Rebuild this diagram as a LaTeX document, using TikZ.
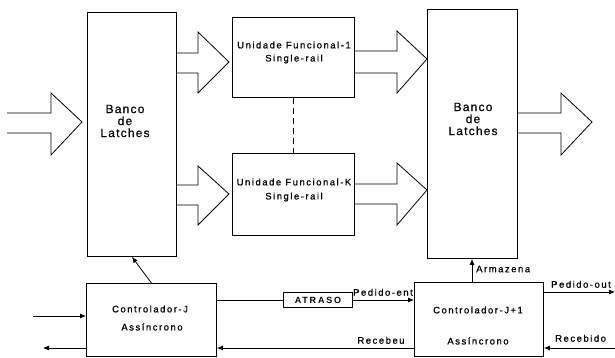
\documentclass[tikz,border=0pt]{standalone}
\usepackage{fontspec}
\setmainfont{Liberation Sans}
\usetikzlibrary{arrows.meta}
\begin{document}
\begin{tikzpicture}[x=1pt,y=-1pt,
  box/.style={draw,line width=0.9pt},
  lbl/.style={font=\fontsize{9.5}{11}\selectfont\addfontfeatures{LetterSpace=16,FakeBold=0.8}, inner sep=0pt},
  big/.style={font=\fontsize{12}{14}\selectfont\addfontfeatures{LetterSpace=10,FakeBold=0.6}, align=center, inner sep=0pt},
  fat/.style={draw,line width=0.8pt,line join=miter},
  sig/.style={line width=0.8pt,-{Latex[length=6pt,width=5pt]}}]
\useasboundingbox (0,0) rectangle (615,358);
% boxes
\node[box,minimum width=89,minimum height=244,anchor=north west] (L1) at (87,12) {};
\node[box,minimum width=90,minimum height=249,anchor=north west] (L2) at (427,9) {};
\node[box,minimum width=122,minimum height=80,anchor=north west] (F1) at (232,17) {};
\node[box,minimum width=122,minimum height=82,anchor=north west] (FK) at (232,153) {};
\node[box,minimum width=130,minimum height=73,anchor=north west] (C1) at (86,283) {};
\node[box,minimum width=129,minimum height=74,anchor=north west] (C2) at (414,282) {};
\node[box,minimum width=69,minimum height=15,anchor=north west,inner sep=0pt] (AT) at (283,292) {};
\node[lbl,font=\fontsize{9}{10}\selectfont\bfseries\addfontfeatures{LetterSpace=20}] (ATt) at (AT.center) {ATRASO};
% texts
\node[big] (B1) at (125,121) {Banco\\[-2pt]de\\[-2pt]Latches};
\node[big] (B2) at (473,119) {Banco\\[-2pt]de\\[-2pt]Latches};
\node[lbl,font=\fontsize{9.5}{10}\selectfont\addfontfeatures{LetterSpace=16,FakeBold=0.8}] (F1a) at (294,45) {Unidade Funcional-1};
\node[lbl] (F1b) at (294,59) {Single-rail};
\node[lbl,font=\fontsize{9.5}{10}\selectfont\addfontfeatures{LetterSpace=16,FakeBold=0.8}] (FKa) at (294,182) {Unidade Funcional-K};
\node[lbl] (FKb) at (294,197) {Single-rail};
\node[lbl] (C1a) at (150,309) {Controlador-J};
\node[lbl] (C1b) at (152,327) {Assíncrono};
\node[lbl] (C2a) at (478,310) {Controlador-J+1};
\node[lbl] (C2b) at (478,341) {Assíncrono};
% fat arrows
\draw[fat] (7,113) -- (51,113) -- (51,93) -- (82,122) -- (51,155) -- (51,133) -- (7,133);
\draw[fat] (L1.east|-0,53) -- (198,53) -- (198,32) -- (229,62) -- (198,93) -- (198,73) -- (L1.east|-0,73);
\draw[fat] (L1.east|-0,185) -- (198,185) -- (198,166) -- (229,194) -- (198,225) -- (198,205) -- (L1.east|-0,205);
\draw[fat] (F1.east|-0,51) -- (397,51) -- (397,31) -- (427,59) -- (397,93) -- (397,73) -- (F1.east|-0,73);
\draw[fat] (FK.east|-0,184) -- (397,184) -- (397,163) -- (427,190) -- (397,225) -- (397,204) -- (FK.east|-0,204);
\draw[fat] (L2.east|-0,113) -- (561,113) -- (561,93) -- (592,122) -- (561,155) -- (561,133) -- (L2.east|-0,133);
% dashed
\draw[line width=1.6pt,dash pattern=on 6pt off 4pt] (F1.south) -- (FK.north);
% control signals
\draw[sig] (C1.north) -- (L1.south);
\draw[sig] (C2.north-|472,0) -- (L2.south-|472,0);
\node[lbl,anchor=west] (arm) at (476,269) {Armazena};
\coordinate (inJ) at (33,316);
\draw[sig] (inJ) -- (C1.west|-0,316);
\coordinate (outJ) at (43,348);
\draw[sig] (C1.west|-0,348) -- (outJ);
\draw[line width=0.8pt] (C1.east|-0,300) -- (AT.west|-0,300);
\draw[sig] (AT.east|-0,300) -- (C2.west|-0,300);
\node[lbl,anchor=south east] (pe) at (413,296) {Pedido-ent};
\draw[sig] (C2.west|-0,348) -- (C1.east|-0,348);
\node[lbl,anchor=south] (rb) at (381,344) {Recebeu};
\coordinate (po) at (615,292);
\draw[sig] (C2.east|-0,292) -- (po);
\node[lbl,anchor=south west] (pot) at (551,288) {Pedido-out};
\coordinate (ri) at (615,348);
\draw[sig] (ri) -- (C2.east|-0,348);
\node[lbl,anchor=south west] (rit) at (555,342) {Recebido};
\end{tikzpicture}
\end{document}
